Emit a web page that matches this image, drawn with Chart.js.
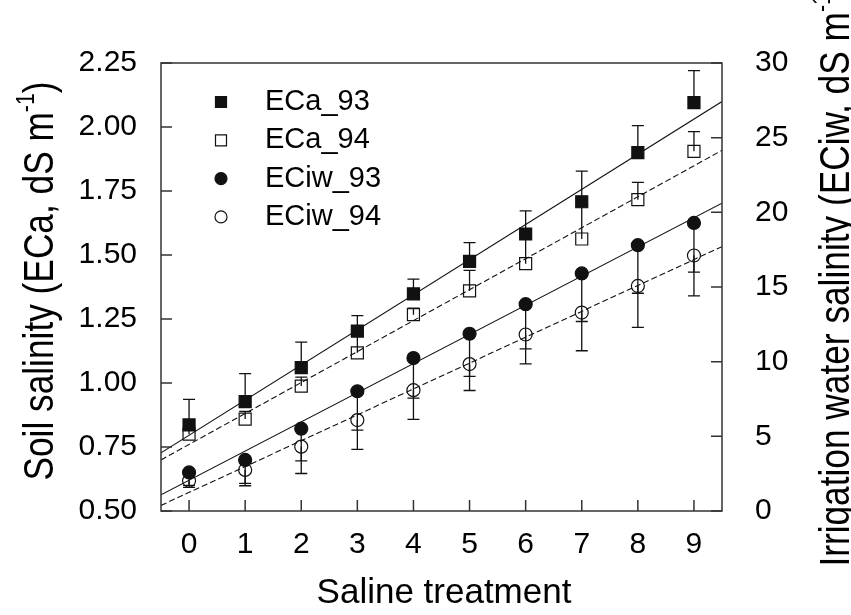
<!DOCTYPE html>
<html>
<head>
<meta charset="utf-8">
<script src="https://cdn.jsdelivr.net/npm/chart.js@4.4.1/dist/chart.umd.min.js"></script>
<style>
  html, body { margin: 0; padding: 0; background: #fff; }
  canvas { display: block; }
</style>
</head>
<body>
<canvas id="myChart" width="851" height="615"></canvas>
<script>
// Data
const treatment = [0, 1, 2, 3, 4, 5, 6, 7, 8, 9];
const eca93 = [0.836, 0.927, 1.06, 1.203, 1.348, 1.475, 1.582, 1.708, 1.90, 2.095];
const eca93Err = [0.10, 0.11, 0.10, 0.06, 0.058, 0.073, 0.09, 0.12, 0.105, 0.125];
const eca94 = [0.80, 0.859, 0.988, 1.118, 1.267, 1.36, 1.466, 1.5625, 1.716, 1.905];
const eca94Err = [0.03, 0.03, 0.035, 0.07, 0.025, 0.08, 0.095, 0.13, 0.068, 0.077];
const eciw93 = [2.58, 3.42, 5.51, 8.02, 10.24, 11.87, 13.85, 15.91, 17.8, 19.29];
const eciw93Err = [1.0, 1.73, 3.0, 3.89, 4.11, 3.8, 4.0, 5.18, 5.51, 4.89];
const eciw94 = [2.02, 2.75, 4.31, 6.09, 8.09, 9.84, 11.82, 13.29, 15.07, 17.11];
const eciw94Err = [0.3, 0.9, 0.95, 0.67, 0.53, 0.82, 0.97, 0.6, 0.49, 1.11];

const xTicks = [0, 1, 2, 3, 4, 5, 6, 7, 8, 9];
const yLeftTicks = [0.5, 0.75, 1.0, 1.25, 1.5, 1.75, 2.0, 2.25];
const yRightTicks = [0, 5, 10, 15, 20, 25, 30];
const seriesNames = ["ECa_93", "ECa_94", "ECiw_93", "ECiw_94"];

const fontFamily = "'Liberation Sans', Arial, Helvetica, sans-serif";
const ink = "#111";

// least squares fit for the regression lines
function fit(xs, ys) {
    const n = xs.length;
    const mx = xs.reduce((s, v) => s + v, 0) / n;
    const my = ys.reduce((s, v) => s + v, 0) / n;
    let sxy = 0, sxx = 0;
    xs.forEach((v, i) => { sxy += (v - mx) * (ys[i] - my); sxx += (v - mx) * (v - mx); });
    const b = sxy / sxx;
    const a = my - b * mx;
    return [-0.5, 9.5].map(t => ({ x: t, y: a + b * t }));
}

const pts = (ys) => treatment.map((t, i) => ({ x: t, y: ys[i] }));

const decor = {
    id: 'decor',
    beforeDatasetsDraw(chart) {
        const { ctx, scales: { x, y, y2 } } = chart;
        ctx.save();
        ctx.strokeStyle = ink;
        ctx.lineWidth = 1.3;
        const bars = [
            [eca93, eca93Err, y, 1],
            [eca94, eca94Err, y, 1],
            [eciw93, eciw93Err, y2, -1],
            [eciw94, eciw94Err, y2, -1],
        ];
        bars.forEach(([vals, errs, sc, dir]) => {
            treatment.forEach((t, i) => {
                const px = x.getPixelForValue(t);
                const p0 = sc.getPixelForValue(vals[i]);
                const p1 = sc.getPixelForValue(vals[i] + dir * errs[i]);
                ctx.beginPath();
                ctx.moveTo(px, p0);
                ctx.lineTo(px, p1);
                ctx.moveTo(px - 6, p1);
                ctx.lineTo(px + 6, p1);
                ctx.stroke();
            });
        });
        ctx.restore();
    },
    afterDraw(chart) {
        const { ctx, chartArea: a, scales: { x, y, y2 } } = chart;
        ctx.save();
        // frame
        ctx.strokeStyle = "#333";
        ctx.lineWidth = 1.5;
        ctx.strokeRect(a.left, a.top, a.right - a.left, a.bottom - a.top);
        // inward ticks
        ctx.beginPath();
        x.ticks.forEach(t => {
            const p = x.getPixelForValue(t.value);
            ctx.moveTo(p, a.bottom); ctx.lineTo(p, a.bottom - 11);
        });
        y.ticks.forEach(t => {
            const p = y.getPixelForValue(t.value);
            ctx.moveTo(a.left, p); ctx.lineTo(a.left + 11, p);
        });
        y2.ticks.forEach(t => {
            const p = y2.getPixelForValue(t.value);
            ctx.moveTo(a.right, p); ctx.lineTo(a.right - 11, p);
        });
        ctx.stroke();

        // axis titles
        ctx.fillStyle = "#000";
        ctx.textBaseline = 'alphabetic';
        ctx.font = '35px ' + fontFamily;
        ctx.textAlign = 'center';
        ctx.fillText('Saline treatment', 444, 603);

        const rotTitle = (cx, cy, main, sup, tail) => {
            const size = 43;
            const supSize = 26;
            ctx.save();
            ctx.translate(cx, cy);
            ctx.rotate(-Math.PI / 2);
            ctx.scale(0.82, 1);
            ctx.textAlign = 'left';
            ctx.font = size + 'px ' + fontFamily;
            const w1 = ctx.measureText(main).width;
            const w3 = ctx.measureText(tail).width;
            ctx.font = supSize + 'px ' + fontFamily;
            const w2 = ctx.measureText(sup).width;
            let sx = -(w1 + w2 + w3) / 2;
            ctx.font = size + 'px ' + fontFamily;
            ctx.fillText(main, sx, 0);
            ctx.font = supSize + 'px ' + fontFamily;
            ctx.fillText(sup, sx + w1, -size * 0.45);
            ctx.font = size + 'px ' + fontFamily;
            ctx.fillText(tail, sx + w1 + w2, 0);
            ctx.restore();
        };
        rotTitle(53, 281, 'Soil salinity (ECa, dS m', '-1', ')');
        rotTitle(849, 274, 'Irrigation water salinity (ECiw, dS m', '-1', ')');

        // legend
        const lx = 221, ly0 = 102, step = 38.3;
        ctx.font = '29px ' + fontFamily;
        ctx.textAlign = 'left';
        ctx.textBaseline = 'middle';
        chart.data.datasets.slice(0, 4).forEach((ds, i) => {
            const yy = ly0 + i * step;
            ctx.lineWidth = 1.2;
            ctx.strokeStyle = ink;
            ctx.fillStyle = i % 2 === 0 ? ink : '#fff';
            ctx.beginPath();
            if (ds.pointStyle === 'rect') {
                ctx.rect(lx - 5.5, yy - 5.5, 11, 11);
            } else {
                ctx.arc(lx, yy, 6, 0, Math.PI * 2);
            }
            ctx.fill();
            ctx.stroke();
            ctx.fillStyle = '#000';
            ctx.fillText(seriesNames[i], 265, yy);
        });
        ctx.restore();
    }
};

const markerBase = {
    type: 'scatter',
    showLine: false,
    borderWidth: 1.2,
    borderColor: ink,
    order: 0,
};
const fitBase = {
    type: 'line',
    pointRadius: 0,
    borderWidth: 1.1,
    borderColor: ink,
    fill: false,
    tension: 0,
    order: 2,
};

new Chart("myChart", {
    type: 'scatter',
    data: {
        datasets: [
            { ...markerBase, label: seriesNames[0], data: pts(eca93), pointStyle: 'rect', pointRadius: 8.5, backgroundColor: ink, yAxisID: 'y' },
            { ...markerBase, label: seriesNames[1], data: pts(eca94), pointStyle: 'rect', pointRadius: 8.5, backgroundColor: 'rgba(0,0,0,0)', yAxisID: 'y' },
            { ...markerBase, label: seriesNames[2], data: pts(eciw93), pointStyle: 'circle', pointRadius: 6.5, backgroundColor: ink, yAxisID: 'y2' },
            { ...markerBase, label: seriesNames[3], data: pts(eciw94), pointStyle: 'circle', pointRadius: 6.5, backgroundColor: 'rgba(0,0,0,0)', yAxisID: 'y2' },
            { ...fitBase, data: fit(treatment, eca93), yAxisID: 'y' },
            { ...fitBase, data: fit(treatment, eca94), yAxisID: 'y', borderDash: [6, 3] },
            { ...fitBase, data: fit(treatment, eciw93), yAxisID: 'y2' },
            { ...fitBase, data: fit(treatment, eciw94), yAxisID: 'y2', borderDash: [6, 3] },
        ],
    },
    options: {
        responsive: false,
        animation: false,
        layout: { padding: { top: 63, left: 0, right: 0, bottom: 0 } },
        plugins: {
            legend: { display: false },
            tooltip: { enabled: false },
        },
        scales: {
            x: {
                type: 'linear',
                min: -0.5,
                max: 9.5,
                afterBuildTicks: s => { s.ticks = xTicks.map(v => ({ value: v })); },
                afterFit: s => { s.height = 104; },
                grid: { display: false, drawTicks: false },
                border: { display: false },
                ticks: {
                    padding: 16,
                    color: '#000',
                    font: { size: 30, family: fontFamily },
                },
            },
            y: {
                position: 'left',
                min: 0.5,
                max: 2.25,
                afterBuildTicks: s => { s.ticks = yLeftTicks.map(v => ({ value: v })); },
                afterFit: s => { s.width = 161; },
                grid: { display: false, drawTicks: false },
                border: { display: false },
                ticks: {
                    padding: 24,
                    color: '#000',
                    font: { size: 30, family: fontFamily },
                    callback: v => v.toFixed(2),
                },
            },
            y2: {
                position: 'right',
                min: 0,
                max: 30,
                afterBuildTicks: s => { s.ticks = yRightTicks.map(v => ({ value: v })); },
                afterFit: s => { s.width = 129; },
                grid: { display: false, drawTicks: false },
                border: { display: false },
                ticks: {
                    padding: 33,
                    color: '#000',
                    font: { size: 30, family: fontFamily },
                },
            },
        },
    },
    plugins: [decor]
});
</script>
</body>
</html>
